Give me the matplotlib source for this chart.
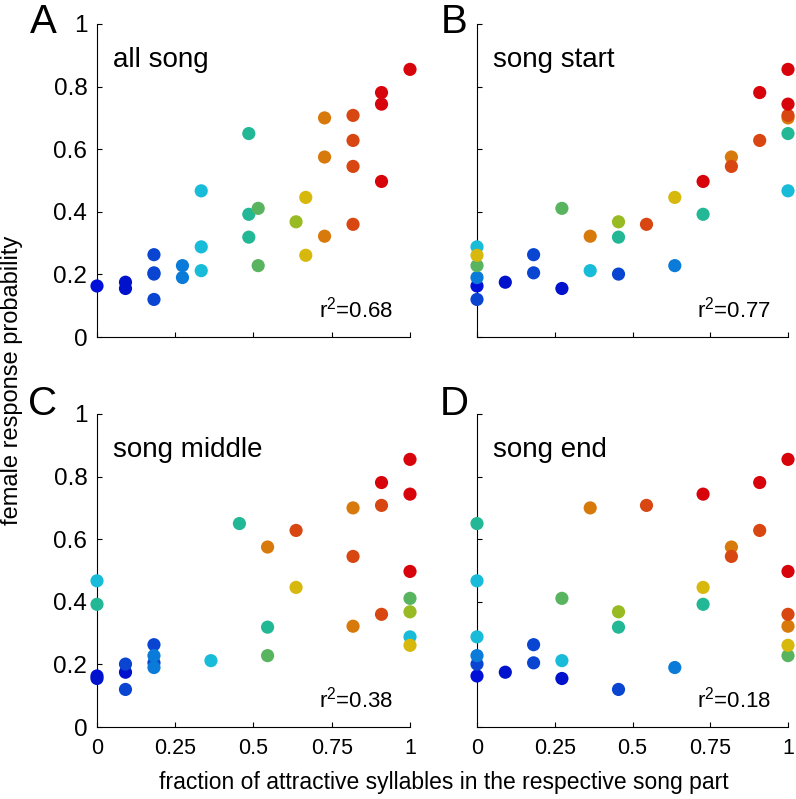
import matplotlib
matplotlib.use('Agg')
import matplotlib.pyplot as plt
from matplotlib.colors import LinearSegmentedColormap

plt.rcParams['font.family'] = ['Liberation Sans', 'DejaVu Sans']
plt.rcParams['mathtext.fontset'] = 'custom'
plt.rcParams['mathtext.rm'] = 'Liberation Sans'
plt.rcParams['mathtext.it'] = 'Liberation Sans'

# ---- data (one entry per song) ----
frac_all = [0.0, 0.091, 0.091, 0.182, 0.182, 0.182, 0.182, 0.273, 0.273, 0.333, 0.333, 0.333,
            0.485, 0.485, 0.485, 0.515, 0.515, 0.636, 0.667, 0.667, 0.727, 0.727, 0.727,
            0.818, 0.818, 0.818, 0.818, 0.909, 0.909, 0.909, 1.0]
response = [0.163, 0.175, 0.155, 0.263, 0.205, 0.201, 0.120, 0.228, 0.190, 0.467, 0.288, 0.212,
            0.650, 0.392, 0.319, 0.411, 0.228, 0.368, 0.446, 0.261, 0.700, 0.575, 0.322,
            0.708, 0.628, 0.545, 0.360, 0.781, 0.744, 0.497, 0.855]
frac_start = [0.0, 0.091, 0.273, 0.182, 0.182, 0.455, 0.0, 0.636, 0.0, 1.0, 0.0, 0.364,
              1.0, 0.727, 0.455, 0.273, 0.0, 0.455, 0.636, 0.0, 1.0, 0.818, 0.364,
              1.0, 0.909, 0.818, 0.545, 0.909, 1.0, 0.727, 1.0]
frac_middle = [0.0, 0.091, 0.0, 0.182, 0.182, 0.091, 0.091, 0.182, 0.182, 0.0, 1.0, 0.364,
               0.455, 0.0, 0.545, 1.0, 0.545, 1.0, 0.636, 1.0, 0.818, 0.545, 0.818,
               0.909, 0.636, 0.818, 0.909, 0.909, 1.0, 1.0, 1.0]
frac_end = [0.0, 0.091, 0.273, 0.182, 0.182, 0.0, 0.455, 0.0, 0.636, 0.0, 0.0, 0.273,
            0.0, 0.727, 0.455, 0.273, 1.0, 0.455, 0.727, 1.0, 0.364, 0.818, 1.0,
            0.545, 0.909, 0.818, 1.0, 0.909, 0.727, 1.0, 1.0]

panel_letters = ['A', 'B', 'C', 'D']
panel_titles = ['all song', 'song start', 'song middle', 'song end']
r2_values = ['0.68', '0.77', '0.38', '0.18']
xtick_vals = [0, 0.25, 0.5, 0.75, 1]
xtick_labels = ['0', '0.25', '0.5', '0.75', '1']
ytick_vals = [0, 0.2, 0.4, 0.6, 0.8, 1]
ytick_labels = ['0', '0.2', '0.4', '0.6', '0.8', '1']
x_label = 'fraction of attractive syllables in the respective song part'
y_label = 'female response probability'

cmap = LinearSegmentedColormap.from_list('songs', [
    (0.0, '#0010d8'), (0.09, '#0012cc'), (0.18, '#0a45d2'), (0.27, '#0a7ad8'),
    (0.333, '#18bcd8'), (0.485, '#20b898'), (0.515, '#5cb45c'), (0.636, '#98ba22'),
    (0.667, '#d8b80c'), (0.727, '#d87a0c'), (0.818, '#d84812'), (0.909, '#d8040c'),
    (1.0, '#d8040c')])

W, H = 796, 799
fig = plt.figure(figsize=(W / 100, H / 100), dpi=100)

# axes boxes in pixels: left, top, right, bottom
boxes = [(97, 24, 410, 337), (477, 24, 788, 337), (97, 414, 410, 727), (477, 414, 788, 727)]
letter_pos = [(43, 22), (454, 22), (43, 404), (454, 404)]
xs = [frac_all, frac_start, frac_middle, frac_end]

for i, (l, t, r, b) in enumerate(boxes):
    ax = fig.add_axes([l / W, 1 - b / H, (r - l) / W, (b - t) / H])
    ax.scatter(xs[i], response, c=frac_all, cmap=cmap, vmin=0, vmax=1, s=90,
               edgecolors='none', clip_on=False, zorder=3)
    ax.set_xlim(0, 1)
    ax.set_ylim(0, 1)
    for s in ['top', 'right']:
        ax.spines[s].set_visible(False)
    for s in ['left', 'bottom']:
        ax.spines[s].set_linewidth(0.8)
    ax.set_xticks(xtick_vals)
    ax.set_yticks(ytick_vals)
    ax.tick_params(direction='in', length=3.5, width=0.8)
    ax.tick_params(axis='y', labelsize=17.5, pad=7)
    ax.tick_params(axis='x', labelsize=15.5, pad=8)
    if i in (0, 2):
        ax.set_yticklabels(ytick_labels)
    else:
        ax.set_yticklabels([])
    if i in (2, 3):
        ax.set_xticklabels(xtick_labels)
    else:
        ax.set_xticklabels([])
    ax.text(0.05, 0.885, panel_titles[i], fontsize=20, ha='left', va='center',
            transform=ax.transAxes)
    ax.text(0.945, 0.061, r'$\mathregular{r^2}$=' + r2_values[i], fontsize=16,
            ha='right', va='baseline', transform=ax.transAxes)
    lx, ly = letter_pos[i]
    fig.text(lx / W, 1 - ly / H, panel_letters[i], fontsize=29,
             ha='center', va='center')

fig.text(444 / W, 1 - 783 / H, x_label, fontsize=16.5, ha='center', va='center')
fig.text(12 / W, 1 - 380 / H, y_label, fontsize=17, ha='center', va='center',
         rotation=90)

fig.savefig('out.png', dpi=100)
